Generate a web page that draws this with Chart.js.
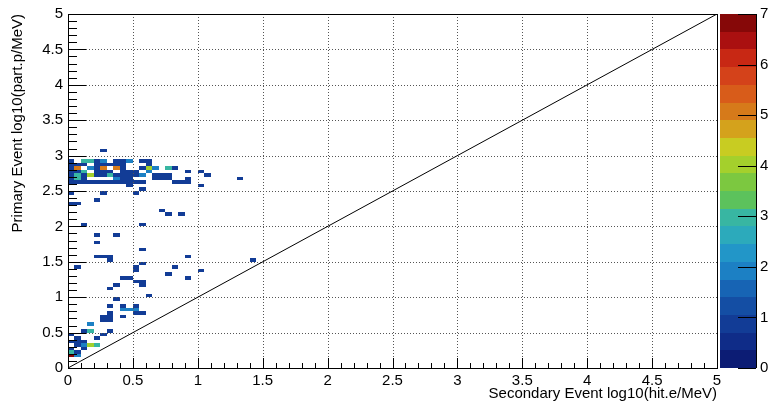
<!DOCTYPE html>
<html><head><meta charset="utf-8">
<script src="https://cdn.jsdelivr.net/npm/chart.js@4/dist/chart.umd.min.js"></script>
<style>html,body{margin:0;padding:0;background:#fff;}canvas{display:block}</style>
</head><body>
<canvas id="c" width="771" height="401"></canvas>
<script>
const xTitle = "Secondary Event log10(hit.e/MeV)";
const yTitle = "Primary Event log10(part.p/MeV)";
const binWidth = 0.05;
const zMax = 7;
const nContours = 20;
// lower edge of each occupied row of bins
const rowY = [3.05, 2.9, 2.85, 2.8, 2.75, 2.7, 2.65, 2.6, 2.55, 2.5, 2.45, 2.35, 2.3, 2.2, 2.15, 2.0,
  1.85, 1.75, 1.65, 1.55, 1.5, 1.45, 1.4, 1.35, 1.3, 1.25, 1.2, 1.15, 1.1, 1.0, 0.95, 0.85, 0.8,
  0.75, 0.7, 0.65, 0.6, 0.5, 0.45, 0.4, 0.35, 0.3, 0.25, 0.2, 0.15];
// lower edge of each occupied bin in that row
const rowCellsX = [
  [0.25],
  [0, 0.1, 0.15, 0.2, 0.25, 0.35, 0.4, 0.45, 0.55, 0.6],
  [0, 0.05, 0.1, 0.2, 0.25, 0.3, 0.35, 0.4, 0.6],
  [0, 0.05, 0.15, 0.2, 0.25, 0.35, 0.4, 0.55, 0.6, 0.65, 0.75, 0.8],
  [0, 0.05, 0.1, 0.2, 0.25, 0.3, 0.4, 0.45, 0.5, 0.6, 0.9, 1.0],
  [0, 0.05, 0.1, 0.15, 0.2, 0.25, 0.3, 0.35, 0.4, 0.45, 0.5, 0.55, 0.65, 0.7, 0.75, 1.05],
  [0, 0.05, 0.1, 0.35, 0.4, 0.45, 0.65, 0.7, 0.75, 0.9, 1.3],
  [0, 0.05, 0.1, 0.15, 0.2, 0.25, 0.3, 0.35, 0.4, 0.45, 0.5, 0.55, 0.8, 0.85, 0.9],
  [0.45, 1.0],
  [0.55],
  [0, 0.25, 0.5],
  [0.2],
  [0, 0.05],
  [0.7],
  [0.75, 0.85],
  [0.1, 0.55],
  [0.2, 0.35],
  [0.2],
  [0.55],
  [0.2, 0.25, 0.3, 0.9],
  [0.3, 1.4],
  [0.55],
  [0.05, 0.5, 0.8],
  [0.5, 1.0],
  [0.75],
  [0.4, 0.45, 0.9],
  [0.5, 0.55],
  [0.35, 0.55],
  [0.3],
  [0.6],
  [0.35],
  [0.3, 0.4, 0.5],
  [0.4, 0.45, 0.5],
  [0.3, 0.5, 0.55],
  [0.25, 0.3, 0.4],
  [0.25, 0.3],
  [0.15],
  [0.1, 0.15, 0.3],
  [0, 0.25],
  [0.05, 0.2],
  [0, 0.05, 0.1],
  [0.05, 0.1, 0.15, 0.2],
  [0, 0.1],
  [0, 0.05],
  [0, 0.05]
];
const rowCellsCount = [
  [1],
  [1, 3, 3, 1, 2, 1, 1, 2, 1, 1],
  [1, 1, 1, 1, 1, 1, 1, 1, 1],
  [1, 5, 2, 1, 5, 5, 1, 1, 4, 2, 3, 1],
  [1, 1, 3, 1, 1, 1, 1, 1, 1, 2, 1, 1],
  [1, 3, 1, 4, 1, 1, 3, 1, 1, 1, 1, 2, 1, 1, 1, 1],
  [1, 3, 1, 2, 1, 1, 1, 1, 1, 1, 1],
  [1, 1, 1, 1, 1, 1, 1, 1, 1, 1, 1, 1, 1, 1, 1],
  [1, 1],
  [1],
  [1, 1, 1],
  [1],
  [1, 1],
  [1],
  [1, 1],
  [1, 1],
  [1, 1],
  [1],
  [1],
  [1, 1, 1, 1],
  [1, 1],
  [1],
  [1, 1, 1],
  [1, 1],
  [1],
  [1, 1, 1],
  [1, 1],
  [1, 1],
  [1],
  [1],
  [1],
  [1, 1, 1],
  [2, 2, 2],
  [1, 1, 1],
  [1, 1, 1],
  [1, 1],
  [2],
  [1, 3, 1],
  [1, 1],
  [1, 1],
  [1, 1, 1],
  [1, 2, 4, 3],
  [1, 1],
  [3, 1],
  [7, 2]
];
const palette = ['#0c1c74', '#0f2c88', '#123c96', '#144ea4', '#1764b4', '#1c80c4', '#2296c8', '#2caabb',
  '#38b6a2', '#5cc25c', '#7cc840', '#a4d02c', '#c8cc22', '#d4a21c', '#d67a1a', '#d85c1a',
  '#d4421a', '#c82814', '#aa1010', '#860808'];
const diagonalPoints = [{x: 0, y: 0}, {x: 5, y: 5}];

const cells = [];
rowY.forEach((yv, r) => rowCellsX[r].forEach((xv, k) => cells.push({x: xv, y: yv, z: rowCellsCount[r][k]})));

function colorFor(z) {
  const b = Math.min(nContours - 1, Math.floor(z / (zMax / nContours) + 1e-9));
  return palette[b];
}

const FONT = "'Liberation Sans', Arial, Helvetica, sans-serif";

const rootPlugin = {
  id: 'rootLook',
  beforeDatasetsDraw(chart) {
    const {ctx, chartArea: a, scales: {x, y}} = chart;
    ctx.save();
    for (const c of cells) {
      const x0 = Math.round(x.getPixelForValue(c.x)), x1 = Math.round(x.getPixelForValue(c.x + binWidth));
      const y0 = Math.round(y.getPixelForValue(c.y + binWidth)), y1 = Math.round(y.getPixelForValue(c.y));
      ctx.fillStyle = colorFor(c.z);
      ctx.fillRect(x0, y0, x1 - x0, y1 - y0);
    }
    // dotted grid at major ticks
    ctx.strokeStyle = '#555';
    ctx.lineWidth = 1;
    ctx.setLineDash([1, 2]);
    x.ticks.forEach(t => {
      const px = Math.round(x.getPixelForValue(t.value)) + 0.5;
      ctx.beginPath(); ctx.moveTo(px, a.top); ctx.lineTo(px, a.bottom); ctx.stroke();
    });
    y.ticks.forEach(t => {
      const py = Math.round(y.getPixelForValue(t.value)) + 0.5;
      ctx.beginPath(); ctx.moveTo(a.left, py); ctx.lineTo(a.right, py); ctx.stroke();
    });
    ctx.restore();
  },
  afterDatasetsDraw(chart) {
    const {ctx, chartArea: a, scales: {x, y, z}} = chart;
    ctx.save();
    ctx.strokeStyle = '#000';
    ctx.lineWidth = 1;
    ctx.setLineDash([]);
    // tick marks, inside the frame
    for (let k = 0; k <= 50; k++) {
      const v = k / 10;
      const major = k % 5 === 0;
      const px = Math.round(x.getPixelForValue(v)) + 0.5;
      ctx.beginPath(); ctx.moveTo(px, a.bottom); ctx.lineTo(px, a.bottom - (major ? 10 : 5)); ctx.stroke();
      const py = Math.round(y.getPixelForValue(v)) + 0.5;
      ctx.beginPath(); ctx.moveTo(a.left, py); ctx.lineTo(a.left + (major ? 18 : 9), py); ctx.stroke();
    }
    // frame
    ctx.strokeRect(Math.round(a.left) + 0.5, Math.round(a.top) + 0.5, Math.round(a.right - a.left), Math.round(a.bottom - a.top));
    // colour bar
    const cbL = Math.round(a.right) + 3, cbR = Math.round(a.right) + 39;
    for (let b = 0; b < nContours; b++) {
      const y0 = Math.round(z.getPixelForValue((b + 1) * zMax / nContours)), y1 = Math.round(z.getPixelForValue(b * zMax / nContours));
      ctx.fillStyle = palette[b];
      ctx.fillRect(cbL, y0, cbR - cbL, y1 - y0);
    }
    ctx.beginPath(); ctx.moveTo(cbR + 0.5, a.top); ctx.lineTo(cbR + 0.5, a.bottom); ctx.stroke();
    z.ticks.forEach(t => {
      const py = Math.round(z.getPixelForValue(t.value)) + 0.5;
      ctx.beginPath(); ctx.moveTo(cbR, py); ctx.lineTo(cbR - 18, py); ctx.stroke();
    });
    ctx.restore();
  }
};

const tickFont = {family: FONT, size: 15};
const titleFont = {family: FONT, size: 15, lineHeight: 1};

new Chart(document.getElementById('c').getContext('2d'), {
  type: 'scatter',
  data: {
    datasets: [{
      data: diagonalPoints, showLine: true, borderColor: '#000', borderWidth: 1,
      pointRadius: 0, xAxisID: 'x', yAxisID: 'y'
    }]
  },
  options: {
    responsive: false, animation: false, devicePixelRatio: 1,
    layout: {padding: {left: 10, top: 14, right: 0, bottom: 0}},
    plugins: {legend: {display: false}, tooltip: {enabled: false}},
    scales: {
      x: {
        type: 'linear', position: 'bottom', min: 0, max: 5,
        grid: {display: false, drawTicks: false}, border: {display: false},
        ticks: {stepSize: 0.5, padding: 4, color: '#000', font: tickFont, maxRotation: 0, autoSkip: false,
          callback: v => String(v)},
        title: {display: true, text: xTitle, align: 'end', color: '#000', font: titleFont, padding: 0},
        afterFit(s) { s.height = 33; }
      },
      y: {
        type: 'linear', position: 'left', min: 0, max: 5,
        grid: {display: false, drawTicks: false}, border: {display: false},
        ticks: {stepSize: 0.5, padding: 5, color: '#000', font: tickFont, autoSkip: false,
          callback: v => String(v)},
        title: {display: true, text: yTitle, align: 'end', color: '#000', font: titleFont, padding: 0},
        afterFit(s) { s.width = 58; }
      },
      z: {
        type: 'linear', position: 'right', min: 0, max: zMax,
        grid: {display: true, drawOnChartArea: false, drawTicks: true, tickLength: 40, color: 'rgba(0,0,0,0)'},
        border: {display: false},
        ticks: {stepSize: 1, padding: 3, color: '#000', font: tickFont, autoSkip: false,
          callback: v => String(v)},
        afterFit(s) { s.width = 54; }
      }
    }
  },
  plugins: [rootPlugin]
});
</script>
</body></html>
